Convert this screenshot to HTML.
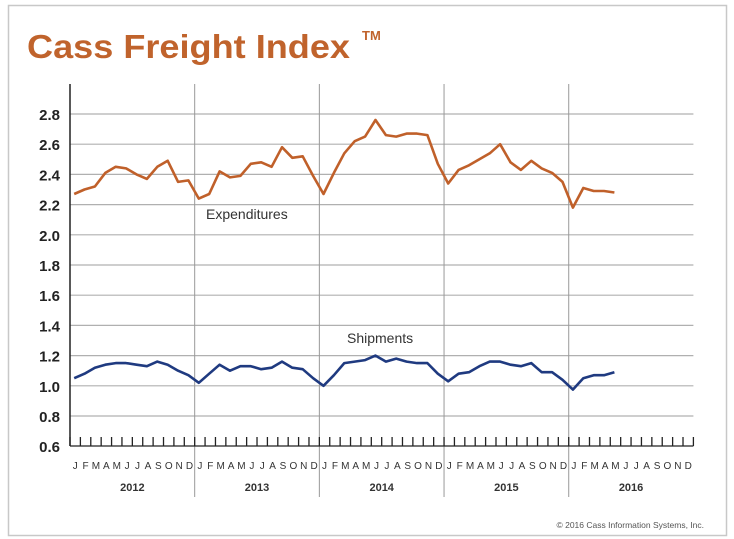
<!DOCTYPE html>
<html><head><meta charset="utf-8"><style>
html,body{margin:0;padding:0;background:#fff;}
svg{display:block;font-family:"Liberation Sans",sans-serif;}
</style></head><body>
<svg id="chart" width="734" height="539" viewBox="0 0 734 539">
<rect x="8.5" y="5.5" width="718" height="530" fill="#fff" stroke="#c8c8c8" stroke-width="1.5"/>
<text x="27" y="58" font-size="33" font-weight="bold" fill="#c0632c" textLength="323" lengthAdjust="spacingAndGlyphs">Cass Freight Index</text>
<text x="362" y="40" font-size="13" font-weight="bold" fill="#c0632c">TM</text>
<g id="grid"></g><g id="axes"></g><g id="series"></g>
<text x="206" y="219" font-size="14" fill="#333">Expenditures</text>
<text x="347" y="343" font-size="14" fill="#333">Shipments</text>
<text x="704" y="528" font-size="8.5" fill="#555" text-anchor="end">© 2016 Cass Information Systems, Inc.</text>
</svg>
<script>
const years = ["2012","2013","2014","2015","2016"];
const monthLabels = ["J","F","M","A","M","J","J","A","S","O","N","D"];
const yTicks = [0.6,0.8,1.0,1.2,1.4,1.6,1.8,2.0,2.2,2.4,2.6,2.8];
const expenditures = [2.27,2.30,2.32,2.41,2.45,2.44,2.40,2.37,2.45,2.49,2.35,2.36,
 2.24,2.27,2.42,2.38,2.39,2.47,2.48,2.45,2.58,2.51,2.52,2.39,
 2.27,2.41,2.54,2.62,2.65,2.76,2.66,2.65,2.67,2.67,2.66,2.47,
 2.34,2.43,2.46,2.50,2.54,2.60,2.48,2.43,2.49,2.44,2.41,2.35,
 2.18,2.31,2.29,2.29,2.28];
const shipments = [1.05,1.08,1.12,1.14,1.15,1.15,1.14,1.13,1.16,1.14,1.10,1.07,
 1.02,1.08,1.14,1.10,1.13,1.13,1.11,1.12,1.16,1.12,1.11,1.05,
 1.00,1.07,1.15,1.16,1.17,1.20,1.16,1.18,1.16,1.15,1.15,1.08,
 1.03,1.08,1.09,1.13,1.16,1.16,1.14,1.13,1.15,1.09,1.09,1.04,
 0.975,1.05,1.07,1.07,1.09];

const NS="http://www.w3.org/2000/svg";
const X0=70, MW=10.39, Y28=114, PX=151;
function xScale(i){return X0+(i+0.4)*MW;}
function yScale(v){return Y28+(2.8-v)*PX;}
function mk(tag,attrs,parent){const e=document.createElementNS(NS,tag);for(const k in attrs)e.setAttribute(k,attrs[k]);parent.appendChild(e);return e;}
const grid=document.getElementById('grid'),axes=document.getElementById('axes'),series=document.getElementById('series');
const xEnd=X0+years.length*12*MW;
yTicks.forEach(v=>{
  if(v>0.6){const l=mk('line',{x1:X0,x2:xEnd,y1:yScale(v),y2:yScale(v),stroke:'#b0b0b0','stroke-width':1.2},grid);
  
  }
  const t=mk('text',{x:60,y:yScale(v)+6,'font-size':15,'font-weight':'bold',fill:'#222','text-anchor':'end'},axes);
  t.textContent=v.toFixed(1);
  
  
});
years.forEach((yr,k)=>{
  if(k>0){const l=mk('line',{x1:X0+k*12*MW,x2:X0+k*12*MW,y1:84,y2:497,stroke:'#999','stroke-width':1},grid);
  
  }
  const t=mk('text',{x:X0+(k*12+6)*MW,y:491,'font-size':11,'font-weight':'bold',fill:'#333','text-anchor':'middle'},axes);
  t.textContent=yr;
  
  
  monthLabels.forEach((m,j)=>{
    const mt=mk('text',{x:X0+(k*12+j+0.5)*MW,y:469,'font-size':10,fill:'#333','text-anchor':'middle'},axes);
    mt.textContent=m;
    
    
  });
});
for(let i=0;i<=years.length*12;i++){
  const tk=mk('line',{x1:X0+i*MW,x2:X0+i*MW,y1:437,y2:446,stroke:'#222','stroke-width':1.3},axes);
  
  
}
const ya=mk('line',{x1:X0,x2:X0,y1:84,y2:446,stroke:'#222','stroke-width':1.5},axes);


const xa=mk('line',{x1:X0,x2:xEnd,y1:446,y2:446,stroke:'#222','stroke-width':1.2},axes);


function draw(arr,color,name){
  const p=mk('polyline',{points:arr.map((v,i)=>xScale(i).toFixed(1)+','+yScale(v).toFixed(1)).join(' '),fill:'none',stroke:color,'stroke-width':2.6,'stroke-linejoin':'round'},series);
  
  
}
draw(expenditures,'#c0602a','expenditures-line');
draw(shipments,'#1f3a80','shipments-line');
</script>
</body></html>
